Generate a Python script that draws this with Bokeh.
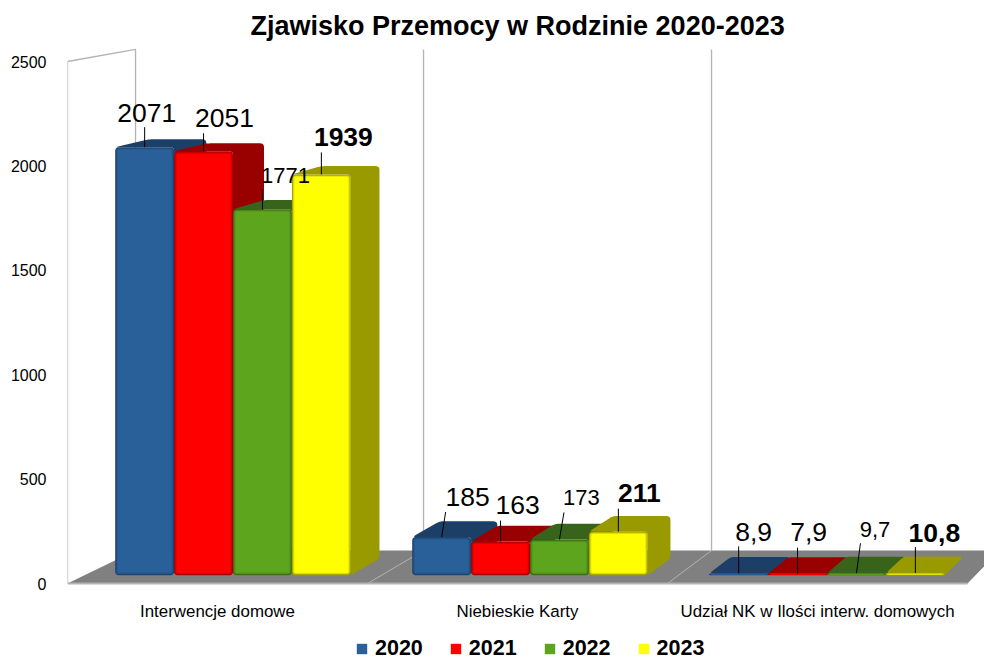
from bokeh.plotting import figure
from bokeh.models import Range1d, FixedTicker, Legend, LegendItem
from bokeh.core.properties import value
from bokeh.embed import file_html
from bokeh.resources import INLINE

# ---------- data ----------
title = "Zjawisko Przemocy w Rodzinie 2020-2023"
categories = ["Interwencje domowe", "Niebieskie Karty", "Udział NK w Ilości interw. domowych"]
years = ["2020", "2021", "2022", "2023"]
v2020 = [2071, 185, 8.9]
v2021 = [2051, 163, 7.9]
v2022 = [1771, 173, 9.7]
v2023 = [1939, 211, 10.8]
yticks = [0, 500, 1000, 1500, 2000, 2500]
series = [v2020, v2021, v2022, v2023]

# ---------- styles ----------
front = ["#2A6099", "#FF0000", "#5EA51E", "#FFFF00"]
mid = ["#245485", "#DD0000", "#518F1A", "#E0E000"]
edge = ["#1C4470", "#A80000", "#3E6E14", "#A8A800"]
dark = ["#1B3F66", "#990000", "#38631A", "#999900"]
font_sizes = ["26.5px", "26.5px", "22px", "26.5px"]
styles = ["normal", "normal", "normal", "bold"]
WALL = "#B3B3B3"
FLOOR = "#808080"

# ---------- layout (pixels) ----------
W, H = 984, 661
LEFT, TOP, BOTTOM = 67, 44, 583
PX_X = 300.0            # pixels per category slot
PX_Y = 0.2088           # pixels per unit on the value axis
# projection: depth scale towards the vanishing point
VX = (1768 - LEFT) / PX_X
VV = (BOTTOM + 242) / PX_Y
S_FRONT, S_BACK, S_WALL = 0.99, 0.97, 0.96
BAR_MARGIN = 31 / PX_X
BAR_W = (238 / 4) / PX_X


def proj(x, v, s):
    return VX + (x - VX) * s, VV + (v - VV) * s


def to_px(pt):
    return pt[0] * PX_X, -pt[1] * PX_Y


def to_data(pt):
    return pt[0] / PX_X, -pt[1] / PX_Y


def rounded(poly, r):
    """Round polygon corners; polygon in data space, radius in pixels."""
    pts = [to_px(p) for p in poly]
    out = []
    n = len(pts)
    for i in range(n):
        p0, p1, p2 = pts[i - 1], pts[i], pts[(i + 1) % n]
        d0 = ((p0[0] - p1[0]) ** 2 + (p0[1] - p1[1]) ** 2) ** 0.5
        d2 = ((p2[0] - p1[0]) ** 2 + (p2[1] - p1[1]) ** 2) ** 0.5
        rr = min(r, d0 * 0.45, d2 * 0.45)
        if rr < 0.05:
            out.append(p1)
            continue
        a = (p1[0] + (p0[0] - p1[0]) * rr / d0, p1[1] + (p0[1] - p1[1]) * rr / d0)
        b = (p1[0] + (p2[0] - p1[0]) * rr / d2, p1[1] + (p2[1] - p1[1]) * rr / d2)
        for k in range(7):
            t = k / 6
            out.append(((1 - t) ** 2 * a[0] + 2 * t * (1 - t) * p1[0] + t ** 2 * b[0],
                        (1 - t) ** 2 * a[1] + 2 * t * (1 - t) * p1[1] + t ** 2 * b[1]))
    data = [to_data(p) for p in out]
    return [p[0] for p in data], [p[1] for p in data]


def inset_rect(x0, x1, v0, v1, inset):
    dx = inset / PX_X
    dv = min(inset / PX_Y, (v1 - v0) * 0.3)
    return [(x0 + dx, v0 + dv), (x1 - dx, v0 + dv), (x1 - dx, v1 - dv), (x0 + dx, v1 - dv)]


p = figure(width=W, height=H, output_backend="svg", toolbar_location=None,
           x_range=Range1d(0, (W - LEFT) / PX_X),
           y_range=Range1d(-(H - BOTTOM) / PX_Y, (BOTTOM - TOP) / PX_Y),
           min_border_left=LEFT, min_border_right=0, min_border_top=TOP,
           min_border_bottom=0)
p.outline_line_color = None
p.background_fill_color = None
p.border_fill_color = None
p.grid.visible = False

p.title.text = title
p.title.text_font = "Liberation Sans"
p.title.text_font_style = "bold"
p.title.text_font_size = "27px"
p.title.text_color = "#000000"
p.title.align = "left"
p.title.offset = 250 - LEFT
p.title.standoff = 7

p.yaxis.ticker = FixedTicker(ticks=yticks)
p.yaxis.axis_line_color = None
p.yaxis.major_tick_line_color = None
p.yaxis.minor_tick_line_color = None
p.yaxis.major_label_standoff = 15
p.yaxis.major_label_text_font = "Liberation Sans"
p.yaxis.major_label_text_font_size = "16px"
p.yaxis.major_label_text_color = "#000000"

n_cat = len(categories)
p.xaxis.ticker = FixedTicker(ticks=[i + 0.5 for i in range(n_cat)])
p.xaxis.major_label_overrides = {i + 0.5: c for i, c in enumerate(categories)}
p.xaxis.fixed_location = 0
p.xaxis.axis_line_color = None
p.xaxis.major_tick_line_color = None
p.xaxis.minor_tick_line_color = None
p.xaxis.major_label_standoff = 12
p.xaxis.major_label_text_font = "Liberation Sans"
p.xaxis.major_label_text_font_size = "16.9px"
p.xaxis.major_label_text_color = "#000000"

# ---------- floor & walls ----------
vmax = yticks[-1]
fl = [proj(0, 0, 1), proj(n_cat, 0, 1), proj(n_cat, 0, S_WALL), proj(0, 0, S_WALL)]
p.patch([q[0] for q in fl], [q[1] for q in fl], fill_color=FLOOR, line_color=None)
p.line([0, n_cat], [0, 0], line_color=WALL, line_width=2)
wall = [proj(0, 0, 1), proj(0, vmax, 1), proj(0, vmax, S_WALL), proj(0, 0, S_WALL)]
p.line([q[0] for q in wall], [q[1] for q in wall], line_color=WALL, line_width=1.3)
for i in range(1, n_cat):
    a, b = proj(i, 0, 1), proj(i, 0, S_WALL)
    c = proj(i, vmax, S_WALL)
    p.line([a[0], b[0]], [a[1], b[1]], line_color=WALL, line_width=1)
    p.line([b[0], c[0]], [b[1], c[1]], line_color=WALL, line_width=1.3)

# ---------- bars ----------
legend_items = []
for j, vals in enumerate(series):
    sil_x, sil_y, l1_x, l1_y, l2_x, l2_y, l3_x, l3_y = [], [], [], [], [], [], [], []
    for i, v in enumerate(vals):
        x0 = i + BAR_MARGIN + j * BAR_W
        x1 = x0 + BAR_W
        fbl, fbr = proj(x0, 0, S_FRONT), proj(x1, 0, S_FRONT)
        ftl, ftr = proj(x0, v, S_FRONT), proj(x1, v, S_FRONT)
        btl, btr = proj(x0, v, S_BACK), proj(x1, v, S_BACK)
        bbr = proj(x1, 0, S_BACK)
        sx, sy = rounded([ftl, btl, btr, bbr, fbr, ftr], 4)
        sil_x.append(sx); sil_y.append(sy)
        for inset, xs, ys in ((0, l1_x, l1_y), (1.2, l2_x, l2_y), (2.4, l3_x, l3_y)):
            rx, ry = rounded(inset_rect(ftl[0], ftr[0], fbl[1], ftl[1], inset), max(4 - inset, 1))
            xs.append(rx); ys.append(ry)
    p.patches(sil_x, sil_y, fill_color=dark[j], line_color=None)
    p.patches(l1_x, l1_y, fill_color=edge[j], line_color=None)
    p.patches(l2_x, l2_y, fill_color=mid[j], line_color=None)
    r = p.patches(l3_x, l3_y, fill_color=front[j], line_color=None)
    legend_items.append(LegendItem(label=years[j], renderers=[r]))

# ---------- data labels with leader lines ----------
# pixel offsets from the bar's front-top centre: leader top dx/dy, text centre dx, baseline dy
lead_dx = [[0, 4, 0], [0, 0, 0], [0, 4.5, 4], [0, 0, 0]]
lead_dy = [[20, 25, 27], [18, 21, 26], [20, 27, 30], [22, 23, 26]]
text_dx = [[2, 26, 15], [21, 17, 11], [23, 22, 18.5], [22, 21, 19]]
text_dy = [[34.5, 40.5, 41.5], [33.5, 36.5, 41.5], [34, 42, 44], [37.5, 38.5, 40.5]]
for j, vals in enumerate(series):
    lx0, ly0, lx1, ly1, tx, ty, ts = [], [], [], [], [], [], []
    for i, v in enumerate(vals):
        xc = i + BAR_MARGIN + (j + 0.5) * BAR_W
        cx, cv = proj(xc, v, S_FRONT)
        lx0.append(cx); ly0.append(cv)
        lx1.append(cx + lead_dx[j][i] / PX_X); ly1.append(cv + lead_dy[j][i] / PX_Y)
        tx.append(cx + text_dx[j][i] / PX_X); ty.append(cv + text_dy[j][i] / PX_Y)
        ts.append(str(v).replace(".", ","))
    p.segment(lx0, ly0, lx1, ly1, line_color="#000000", line_width=1)
    p.text(tx, ty, text=ts, text_font=value("Liberation Sans"), text_font_style=styles[j],
           text_font_size=font_sizes[j], text_align="center", text_baseline="alphabetic",
           text_color="#000000")

# ---------- legend ----------
legend = Legend(items=legend_items, orientation="horizontal", location=(355 - LEFT, 0),
                padding=0, margin=0, spacing=26, glyph_width=13, glyph_height=13,
                label_standoff=7, border_line_color=None, background_fill_alpha=0,
                label_text_font="Liberation Sans", label_text_font_style="bold",
                label_text_font_size="21.5px", label_text_color="#000000")
p.add_layout(legend, "center")

html = file_html(p, INLINE)
open("out.html", "w").write(html)
